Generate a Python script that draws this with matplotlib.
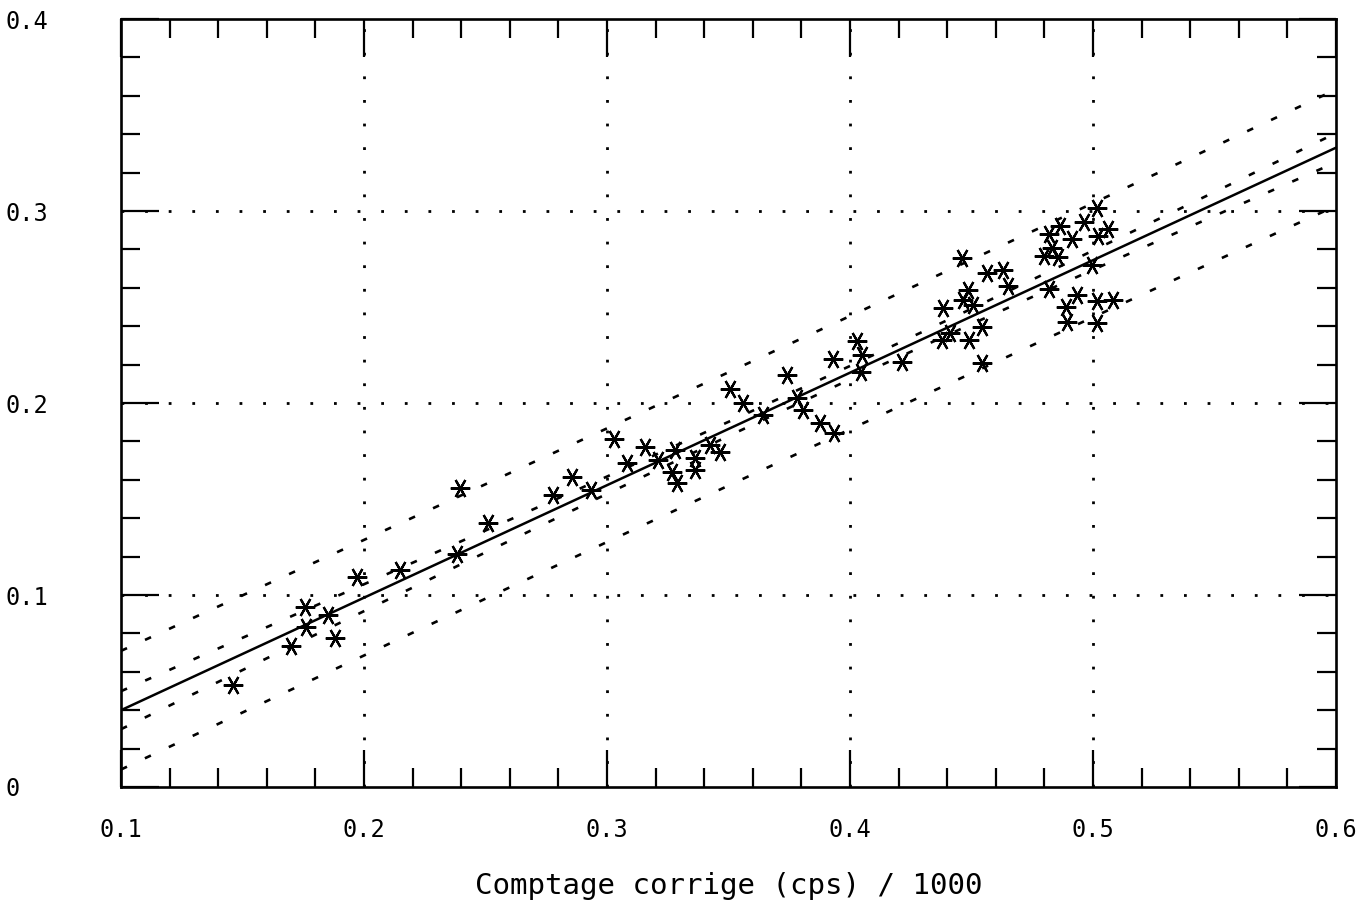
import numpy as np
import matplotlib
matplotlib.use("Agg")
import matplotlib.pyplot as plt
from matplotlib.ticker import MultipleLocator

# corrected count (cps / 1000) for each sample and the measured value
count = [0.1461, 0.1700, 0.1757, 0.1761, 0.1852, 0.1881, 0.1971, 0.2148,
         0.2395, 0.2383, 0.2510, 0.2778, 0.2856, 0.2934, 0.3029, 0.3082,
         0.3156, 0.3210, 0.3280, 0.3362, 0.3362, 0.3267, 0.3288, 0.3424,
         0.3465, 0.3506, 0.3560, 0.3642, 0.3741, 0.3782, 0.3807, 0.3877,
         0.3934, 0.3930, 0.4029, 0.4049, 0.4045, 0.4214, 0.4379, 0.4412,
         0.4383, 0.4465, 0.4486, 0.4506, 0.4461, 0.4490, 0.4543, 0.4543,
         0.4564, 0.4630, 0.4650, 0.5016, 0.4864, 0.4963, 0.5062, 0.5021,
         0.4819, 0.4914, 0.4831, 0.4798, 0.4856, 0.4996, 0.4819, 0.4934,
         0.5016, 0.5082, 0.4889, 0.4893, 0.5016]
value = [0.0531, 0.0734, 0.0938, 0.0833, 0.0896, 0.0776, 0.1094, 0.1130,
         0.1557, 0.1214, 0.1375, 0.1521, 0.1615, 0.1547, 0.1813, 0.1688,
         0.1771, 0.1703, 0.1755, 0.1714, 0.1651, 0.1641, 0.1583, 0.1781,
         0.1745, 0.2073, 0.2000, 0.1938, 0.2146, 0.2026, 0.1964, 0.1896,
         0.1844, 0.2229, 0.2323, 0.2250, 0.2161, 0.2214, 0.2328, 0.2365,
         0.2495, 0.2536, 0.2589, 0.2510, 0.2755, 0.2328, 0.2396, 0.2208,
         0.2677, 0.2693, 0.2609, 0.3016, 0.2922, 0.2943, 0.2906, 0.2870,
         0.2880, 0.2854, 0.2807, 0.2766, 0.2760, 0.2719, 0.2594, 0.2563,
         0.2531, 0.2536, 0.2500, 0.2422, 0.2417]

# regression line and band half-widths along the count axis
fit_x = [0.10, 0.15, 0.20, 0.25, 0.30, 0.35, 0.40, 0.45, 0.50, 0.55, 0.60]
fit_y = [0.0400, 0.0693, 0.0986, 0.1279, 0.1572, 0.1865, 0.2158, 0.2451,
         0.2744, 0.3037, 0.3330]
conf_half = [0.0099, 0.0084, 0.0070, 0.0057, 0.0045, 0.0037, 0.0035,
             0.0040, 0.0050, 0.0062, 0.0076]
pred_half = [0.0309, 0.0305, 0.0301, 0.0298, 0.0296, 0.0295, 0.0295,
             0.0296, 0.0297, 0.0299, 0.0303]

x_ticks = [0.1, 0.2, 0.3, 0.4, 0.5, 0.6]
x_labels = ["0.1", "0.2", "0.3", "0.4", "0.5", "0.6"]
y_ticks = [0.0, 0.1, 0.2, 0.3, 0.4]
y_labels = ["0", "0.1", "0.2", "0.3", "0.4"]

plt.rcParams["font.family"] = ["DejaVu Sans Mono"]

fig = plt.figure(figsize=(13.72, 9.15), dpi=100)
ax = fig.add_axes([0.0882, 0.1399, 0.8856, 0.8393])

fx = np.array(fit_x)
fy = np.array(fit_y)
ci = np.array(conf_half)
pi = np.array(pred_half)

dash = (0, (2.5, 7.5))
for band in (fy + pi, fy + ci, fy - ci, fy - pi):
    ax.plot(fx, band, color="black", lw=1.9, linestyle=dash)
ax.plot(fx, fy, color="black", lw=1.8)

ax.plot(count, value, linestyle="none", marker=(6, 2, 90), ms=14,
        mew=1.6, color="black")

# dotted grid on the inner major ticks only
for gx in x_ticks[1:-1]:
    ax.axvline(gx, color="black", lw=2.0, linestyle=(0, (1, 7.5)), zorder=0)
for gy in y_ticks[1:-1]:
    ax.axhline(gy, color="black", lw=2.0, linestyle=(0, (1, 7.5)), zorder=0)

ax.set_xlim(0.1, 0.6)
ax.set_ylim(0.0, 0.4)
ax.set_xticks(x_ticks)
ax.set_xticklabels(x_labels)
ax.set_yticks(y_ticks)
ax.set_yticklabels(y_labels)
ax.xaxis.set_minor_locator(MultipleLocator(0.02))
ax.yaxis.set_minor_locator(MultipleLocator(0.02))

ax.tick_params(which="both", direction="in", top=True, right=True,
               width=1.6, color="black")
ax.tick_params(which="major", length=27)
ax.tick_params(which="minor", length=14)
ax.tick_params(axis="x", which="major", pad=22, labelsize=17)
ax.tick_params(axis="y", which="major", pad=83, labelsize=17)
for lab in ax.get_yticklabels():
    lab.set_horizontalalignment("left")

for sp in ax.spines.values():
    sp.set_linewidth(1.9)

ax.set_xlabel("Comptage corrige (cps) / 1000", fontsize=21, labelpad=22)

fig.savefig("out.png", dpi=100)
